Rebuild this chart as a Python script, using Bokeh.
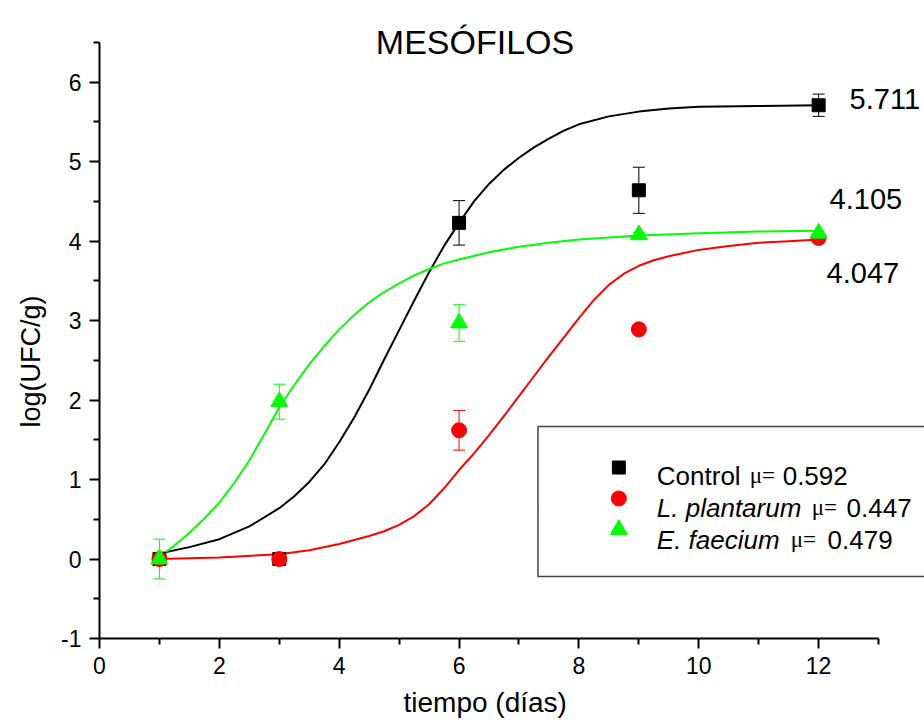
from bokeh.plotting import figure
from bokeh.models import Range1d, FixedTicker, ColumnDataSource, Whisker, TeeHead, Title
from bokeh.core.properties import value
from bokeh.embed import file_html
from bokeh.resources import INLINE

# ---------------- data ----------------
days = [1, 3, 6, 9, 12]
control_mean = [0.0, 0.0, 4.23, 4.64, 5.71]
control_sd = [0.0, 0.0, 0.28, 0.29, 0.14]
plantarum_mean = [0.0, 0.0, 1.62, 2.89, 4.04]
plantarum_sd = [0.0, 0.02, 0.25, 0.05, 0.03]
faecium_mean = [0.0, 1.98, 2.97, 4.08, 4.10]
faecium_sd = [0.25, 0.22, 0.23, 0.03, 0.03]

# fitted growth curves
control_fit_x = [1.0, 1.5, 2.0, 2.5, 3.0, 3.25, 3.5, 3.75, 4.0, 4.25, 4.5, 4.75, 5.0, 5.25,
                 5.5, 5.75, 6.0, 6.25, 6.5, 6.75, 7.0, 7.25, 7.5, 7.75, 8.0, 8.5, 9.0, 9.5,
                 10.0, 11.0, 12.0]
control_fit_y = [0.07, 0.15, 0.25, 0.41, 0.64, 0.79, 0.97, 1.19, 1.47, 1.78, 2.13, 2.51, 2.88, 3.25,
                 3.61, 3.94, 4.23, 4.50, 4.72, 4.90, 5.05, 5.18, 5.29, 5.39, 5.47, 5.57, 5.63, 5.67,
                 5.69, 5.70, 5.71]
plantarum_fit_x = [1.0, 2.0, 3.0, 3.5, 4.0, 4.5, 4.75, 5.0, 5.25, 5.5, 5.75, 6.0, 6.25, 6.5, 6.75,
                   7.0, 7.25, 7.5, 7.75, 8.0, 8.25, 8.5, 8.75, 9.0, 9.25, 9.5, 9.75, 10.0, 10.5,
                   11.0, 11.5, 12.0]
plantarum_fit_y = [0.00, 0.02, 0.06, 0.11, 0.19, 0.29, 0.35, 0.43, 0.54, 0.69, 0.89, 1.12, 1.33, 1.56, 1.80,
                   2.05, 2.30, 2.55, 2.79, 3.03, 3.26, 3.45, 3.59, 3.69, 3.76, 3.81, 3.85, 3.89, 3.94,
                   3.98, 4.00, 4.02]
faecium_fit_x = [1.0, 1.25, 1.5, 1.75, 2.0, 2.25, 2.5, 2.75, 3.0, 3.25, 3.5, 3.75, 4.0, 4.25, 4.5,
                 4.75, 5.0, 5.25, 5.5, 5.75, 6.0, 6.5, 7.0, 7.5, 8.0, 9.0, 10.0, 11.0, 12.0]
faecium_fit_y = [0.03, 0.17, 0.33, 0.51, 0.71, 0.96, 1.24, 1.57, 1.91, 2.19, 2.45, 2.68, 2.89, 3.07, 3.23,
                 3.36, 3.47, 3.57, 3.65, 3.72, 3.77, 3.86, 3.93, 3.98, 4.02, 4.07, 4.10, 4.12, 4.13]

series_names = ["Control", "L. plantarum", "E. faecium"]
mu_values = ["0.592", "0.447", "0.479"]
asymptote_labels = ["5.711", "4.105", "4.047"]
x_major_ticks = [0, 2, 4, 6, 8, 10, 12]
x_minor_ticks = [1, 3, 5, 7, 9, 11, 13]
y_major_ticks = [-1, 0, 1, 2, 3, 4, 5, 6]
y_minor_ticks = [-0.5, 0.5, 1.5, 2.5, 3.5, 4.5, 5.5, 6.5]

# ---------------- layout ----------------
W, H = 924, 725
LEFT, BOTTOM = 98, 87
PX_PER_X = 60.0
PX_PER_Y = 79.47
X_END = (W - LEFT) / PX_PER_X
Y_START = -1.0
Y_END = Y_START + (H - BOTTOM) / PX_PER_Y


def sx(px):
    return (px - LEFT) / PX_PER_X


def sy(py):
    return Y_END - py / PX_PER_Y


FONT = value("Liberation Sans")
BLACK, RED, GREEN = "#000000", "#ff0000", "#00ff00"

p = figure(width=W, height=H, output_backend="svg", toolbar_location=None,
           x_range=Range1d(0, X_END), y_range=Range1d(Y_START, Y_END),
           min_border_left=LEFT, min_border_right=0, min_border_top=0,
           min_border_bottom=BOTTOM)
p.outline_line_color = None
p.grid.visible = False
p.background_fill_color = "white"
p.border_fill_color = "white"

for ax in (p.xaxis[0], p.yaxis[0]):
    ax.axis_line_width = 2
    ax.major_tick_line_width = 2
    ax.minor_tick_line_width = 2
    ax.major_tick_in = 0
    ax.major_tick_out = 10
    ax.minor_tick_in = 0
    ax.minor_tick_out = 6
    ax.major_label_text_font = "Liberation Sans"
    ax.major_label_text_font_size = "23px"
    ax.major_label_text_color = "black"
    ax.major_label_standoff = 8

p.xaxis.ticker = FixedTicker(ticks=x_major_ticks, minor_ticks=x_minor_ticks)
p.yaxis.ticker = FixedTicker(ticks=y_major_ticks, minor_ticks=y_minor_ticks)
p.yaxis.major_label_overrides = {-1: "-1"}
p.xaxis.bounds = (0, 13)
p.yaxis.bounds = (-1, 6.5)

# axis titles (panel titles, so they can sit off-centre like the reference)
x_title = Title(text="tiempo (días)", align="left", offset=304, standoff=16,
                text_font="Liberation Sans", text_font_size="28px", text_font_style="normal",
                text_color="black")
p.add_layout(x_title, "below")
y_title = Title(text="log(UFC/g)", align="left", offset=211, standoff=26,
                text_font="Liberation Sans", text_font_size="27px", text_font_style="normal",
                text_color="black")
p.add_layout(y_title, "left")

# ---------------- fitted curves ----------------
p.line(control_fit_x, control_fit_y, line_color=BLACK, line_width=2)
p.line(faecium_fit_x, faecium_fit_y, line_color=GREEN, line_width=2)
p.line(plantarum_fit_x, plantarum_fit_y, line_color=RED, line_width=2)

# ---------------- error bars + points ----------------
specs = [
    (control_mean, control_sd, BLACK, "square", 13),
    (plantarum_mean, plantarum_sd, RED, "circle", 15),
    (faecium_mean, faecium_sd, GREEN, "triangle", 17),
]
for mean, sd, color, marker, size in specs:
    src = ColumnDataSource(dict(
        x=days, y=mean,
        upper=[m + s for m, s in zip(mean, sd)],
        lower=[m - s for m, s in zip(mean, sd)],
    ))
    wk = Whisker(base="x", upper="upper", lower="lower", source=src,
                 line_color=color, line_width=1,
                 upper_head=TeeHead(size=12, line_color=color, line_width=1),
                 lower_head=TeeHead(size=12, line_color=color, line_width=1))
    p.add_layout(wk)
for mean, sd, color, marker, size in specs:
    p.scatter(days, mean, marker=marker, size=size, fill_color=color, line_color=color)

# ---------------- chart title ----------------
p.text(x=[sx(474)], y=[sy(41.5)], text=["MESÓFILOS"], text_font=FONT,
       text_font_size="34px", text_align="center", text_baseline="alphabetic",
       text_color="black")

# ---------------- asymptote labels ----------------
p.text(x=[sx(849), sx(829), sx(826)], y=[sy(98), sy(198), sy(272)],
       text=asymptote_labels, text_font=FONT, text_font_size="29px",
       text_align="left", text_baseline="alphabetic", text_color="black")

# ---------------- legend (drawn by hand; box runs off the right edge) ----------------
p.quad(left=[sx(537)], right=[sx(980)], top=[sy(426)], bottom=[sy(576)],
       fill_color="white", line_color="#444444", line_width=1.5)
p.scatter([sx(618)], [sy(467)], marker="square", size=13, fill_color=BLACK, line_color=BLACK)
p.scatter([sx(618)], [sy(498)], marker="circle", size=15, fill_color=RED, line_color=RED)
p.scatter([sx(618)], [sy(529)], marker="triangle", size=17, fill_color=GREEN, line_color=GREEN)

row_base = [475, 507, 539]
name_style = ["normal", "italic", "italic"]
mu_left = [749, 811, 790]
val_left = [782, 846, 827]
for i in range(3):
    p.text(x=[sx(656)], y=[sy(row_base[i])], text=[series_names[i]], text_font=FONT,
           text_font_size="26px", text_font_style=name_style[i], text_align="left",
           text_baseline="alphabetic", text_color="black")
    p.text(x=[sx(mu_left[i])], y=[sy(row_base[i])], text=["μ="], text_font=value("Liberation Serif"),
           text_font_size="23px", text_align="left", text_baseline="alphabetic", text_color="black")
    p.text(x=[sx(val_left[i])], y=[sy(row_base[i])], text=[mu_values[i]], text_font=FONT,
           text_font_size="26px", text_align="left", text_baseline="alphabetic", text_color="black")

open("out.html", "w").write(file_html(p, INLINE))
